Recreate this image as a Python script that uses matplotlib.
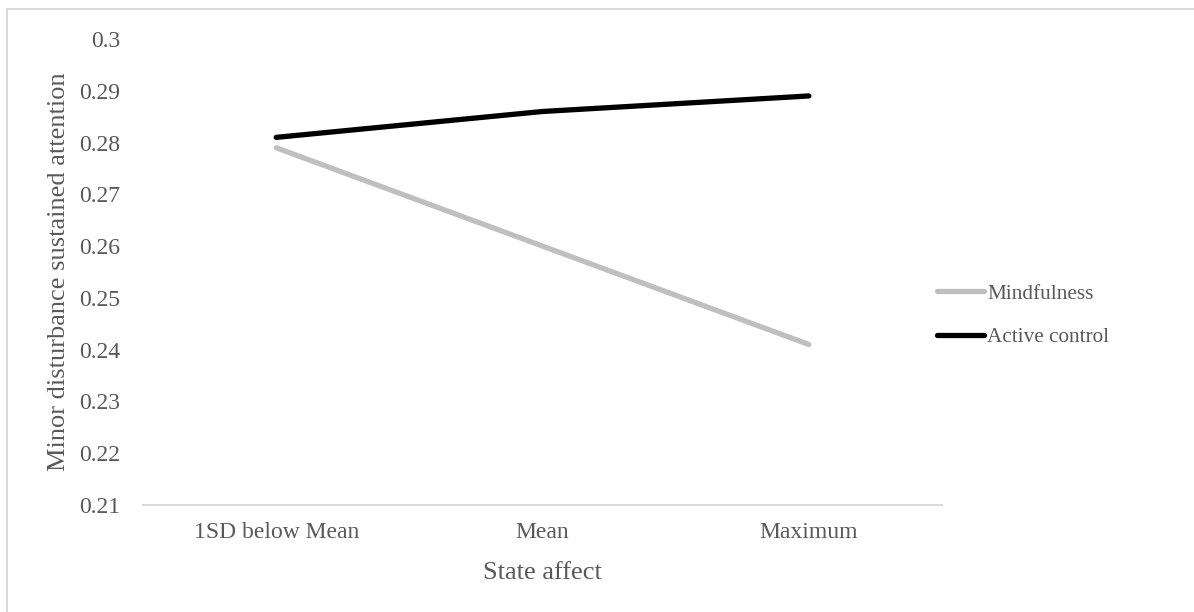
import matplotlib.pyplot as plt
from matplotlib.patches import Rectangle

categories = ["1SD below Mean", "Mean", "Maximum"]
mindfulness = [0.279, 0.260, 0.241]
active_control = [0.281, 0.286, 0.289]
y_ticks = [0.21, 0.22, 0.23, 0.24, 0.25, 0.26, 0.27, 0.28, 0.29, 0.3]
y_tick_labels = ["0.21", "0.22", "0.23", "0.24", "0.25", "0.26", "0.27", "0.28", "0.29", "0.3"]

text_col = "#595959"
plt.rcParams['font.family'] = ['Liberation Serif', 'DejaVu Serif']

W, H = 1194, 612
fig = plt.figure(figsize=(W / 100, H / 100), dpi=100)
ax = fig.add_axes([143 / W, 1 - 505 / H, (942 - 143) / W, (505 - 39) / H])

# outer chart border (clipped on right/bottom like the source)
fig.patches.append(Rectangle((7 / W, -0.1), 1.2, 1 - 9 / H + 0.1, transform=fig.transFigure,
                             fill=False, edgecolor="#d9d9d9", linewidth=1.5))

x = [0.5, 1.5, 2.5]
ax.plot(x, mindfulness, color="#bfbfbf", lw=3.8, solid_capstyle='round', label="Mindfulness")
ax.plot(x, active_control, color="black", lw=3.8, solid_capstyle='round', label="Active control")

ax.set_xlim(0, 3)
ax.set_ylim(0.21, 0.3)
ax.set_xticks(x)
ax.set_xticklabels(categories)
ax.set_yticks(y_ticks)
ax.set_yticklabels(y_tick_labels)
ax.tick_params(axis='both', length=0, labelsize=17, colors=text_col)
ax.tick_params(axis='x', pad=12)
ax.tick_params(axis='y', pad=16.5)

for s in ["top", "right", "left"]:
    ax.spines[s].set_visible(False)
ax.spines["bottom"].set_color("#d9d9d9")
ax.spines["bottom"].set_linewidth(1.5)

ax.set_xlabel("State affect", fontsize=19, color=text_col, labelpad=14)
ax.set_ylabel("Minor disturbance sustained attention", fontsize=19, color=text_col, labelpad=6.6)

leg = fig.legend(loc="center left", bbox_to_anchor=(937 / W, 1 - 315.5 / H), frameon=False,
                 fontsize=15.3, handlelength=2.2, handletextpad=0.15, labelspacing=1.09,
                 borderpad=0, borderaxespad=0)
for t in leg.get_texts():
    t.set_color(text_col)

fig.savefig("out.png", dpi=100)
